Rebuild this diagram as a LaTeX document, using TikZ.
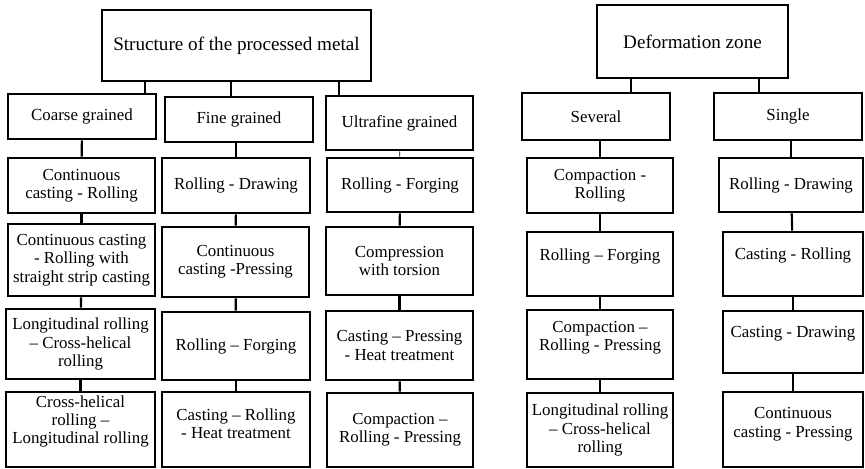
\documentclass[tikz,border=0pt]{standalone}
\usepackage{fontspec}
\setmainfont{Liberation Serif}
\tikzset{
	pbox/.style={draw, line width=2pt, fill=white, align=center, inner sep=1pt, font=\fontsize{12}{13}\selectfont},
	headbox/.style={pbox, font=\fontsize{13.6}{15}\selectfont},
	sz/.style 2 args={minimum width=#1*0.025cm, minimum height=#2*0.025cm},
	liftup/.style={text depth=#1},
	link/.style={line width=1.5pt}
}

\begin{document}
\begin{tikzpicture}[x=0.025cm, y=-0.025cm]
		\useasboundingbox (0,0) rectangle (865,468);
		
		%%%%% STRUCTURE OF THE METAL %%%%%
		
		\node[headbox, sz={269}{71}] (metal) at (236.5,45.5) {Structure of the processed metal};
		
		\node[pbox, sz={148}{45}] (coarse) at (82,116.5) {Coarse grained};
		\node[pbox, sz={148}{45}] (fine) at (239,119.5) {Fine grained};
		\node[pbox, sz={147}{54}] (ultra) at (399.5,123) {Ultrafine grained};
		
		\draw[link] (metal.south -| 145,0) -- (coarse.north -| 145,0);
		\draw[link] (metal.south -| 231,0) -- (fine.north -| 231,0);
		\draw[link] (metal.south -| 339,0) -- (ultra.north -| 339,0);
		
		% coarse grained
		\node[pbox, sz={147}{55}] (coarse1) at (81.5,185.5) {Continuous\\casting - Rolling};
		\node[pbox, sz={147}{72}] (coarse2) at (81.5,260) {Continuous casting\\- Rolling with\\straight strip casting};
		\node[pbox, sz={149}{70}] (coarse3) at (80.5,344) {Longitudinal rolling\\– Cross-helical\\rolling};
		\node[pbox, sz={149}{75}, liftup=14pt] (coarse4) at (80.5,429.5) {Cross-helical\\rolling –\\Longitudinal rolling};
		
		% fine grained
		\node[pbox, sz={148}{55}] (fine1) at (236,185.5) {Rolling - Drawing};
		\node[pbox, sz={147}{70}] (fine2) at (235.5,262) {Continuous\\casting -Pressing};
		\node[pbox, sz={148}{68}] (fine3) at (236,346) {Rolling – Forging};
		\node[pbox, sz={148}{75}, liftup=8pt] (fine4) at (236,429.5) {Casting – Rolling\\- Heat treatment};
		
		% ultrafine grained
		\node[pbox, sz={146}{54}] (ultra1) at (400,185) {Rolling - Forging};
		\node[pbox, sz={147}{68}] (ultra2) at (399.5,261) {Compression\\with torsion};
		\node[pbox, sz={147}{69}] (ultra3) at (399.5,345.5) {Casting – Pressing\\- Heat treatment};
		\node[pbox, sz={146}{74}] (ultra4) at (400,430) {Compaction –\\Rolling - Pressing};
		
		\draw[link] (coarse) -- (coarse1);
		\draw[link] (coarse1) -- (coarse2);
		\draw[link] (coarse2) -- (coarse3);
		\draw[link] (coarse3) -- (coarse4);
		
		\draw[link] (fine.south -| fine1) -- (fine1);
		\draw[link] (fine1) -- (fine2);
		\draw[link] (fine2) -- (fine3);
		\draw[link] (fine3) -- (fine4);
		
		\draw[link, line width=0.6pt] (ultra) -- (ultra1);
		\draw[link] (ultra1) -- (ultra2);
		\draw[link] (ultra2) -- (ultra3);
		\draw[link] (ultra3) -- (ultra4);
		
		%%%%% DEFORMATION ZONE %%%%%
		
		\node[headbox, sz={191}{73}] (zone) at (692.5,41.5) {Deformation zone};
		
		\node[pbox, sz={148}{47}] (several) at (596,116.5) {Several};
		\node[pbox, sz={148}{47}] (single) at (788,116.5) {Single};
		
		\draw[link] (zone.south -| 631,0) -- (several.north -| 631,0);
		\draw[link] (zone.south -| 759,0) -- (single.north -| 759,0);
		
		% several
		\node[pbox, sz={146}{55}] (several1) at (600,185.5) {Compaction -\\Rolling};
		\node[pbox, sz={146}{64}, liftup=14pt] (several2) at (600,264) {Rolling – Forging};
		\node[pbox, sz={146}{69}, liftup=12pt] (several3) at (600,344.5) {Compaction –\\Rolling - Pressing};
		\node[pbox, sz={146}{74}] (several4) at (600,430) {Longitudinal rolling\\– Cross-helical\\rolling};
		
		% single
		\node[pbox, sz={144}{54}] (single1) at (791,185) {Rolling - Drawing};
		\node[pbox, sz={140}{64}, liftup=15pt] (single2) at (793,264) {Casting - Rolling};
		\node[pbox, sz={140}{62}, liftup=15pt] (single3) at (793,342) {Casting - Drawing};
		\node[pbox, sz={140}{75}, liftup=10pt] (single4) at (793,429.5) {Continuous\\casting - Pressing};
		
		\draw[link] (several.south -| several1) -- (several1);
		\draw[link] (several1) -- (several2);
		\draw[link] (several2) -- (several3);
		\draw[link] (several3) -- (several4);
		
		\draw[link] (single.south -| single1) -- (single1);
		\draw[link] (single1) -- (single2);
		\draw[link] (single2) -- (single3);
		\draw[link] (single3) -- (single4);
		
		%%%%% END %%%%%
\end{tikzpicture}
\end{document}
